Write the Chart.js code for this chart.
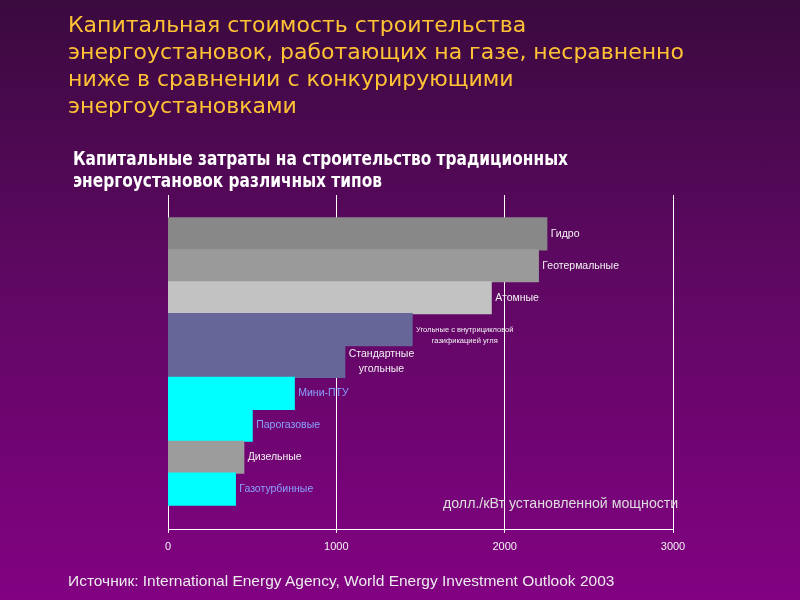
<!DOCTYPE html>
<html>
<head>
<meta charset="utf-8">
<script src="https://cdn.jsdelivr.net/npm/chart.js@4"></script>
<style>
  html, body { margin: 0; padding: 0; }
  body {
    width: 800px; height: 600px; overflow: hidden; position: relative;
    background: linear-gradient(to bottom, #3a0a3e 0%, #5e0862 45%, #820282 100%);
  }
  #chart { position: absolute; left: 0; top: 0; }
  .txt { position: absolute; white-space: nowrap; }
  #title { left: 68px; top: 11px; font: 22px "DejaVu Sans", sans-serif; line-height: 27px; color: #ffc235; }
  #subtitle { left: 73px; top: 147px; font: bold 19px "Liberation Sans Narrow", "DejaVu Sans Condensed", sans-serif; line-height: 22px; color: #ffffff; transform: scaleX(0.9); transform-origin: 0 0; }
  #units { left: 443px; top: 495px; font: 14.2px "Liberation Sans", Arial, sans-serif; color: #dedede; }
  #source { left: 68px; top: 572px; font: 15.5px "Liberation Sans", Arial, sans-serif; color: #ececec; }
</style>
</head>
<body>
<canvas id="chart" width="800" height="600"></canvas>
<div class="txt" id="title">Капитальная стоимость строительства<br>энергоустановок, работающих на газе, несравненно<br>ниже в сравнении с конкурирующими<br>энергоустановками</div>
<div class="txt" id="subtitle">Капитальные затраты на строительство традиционных<br>энергоустановок различных типов</div>
<div class="txt" id="units">долл./кВт установленной мощности</div>
<div class="txt" id="source">Источник: International Energy Agency, World Energy Investment Outlook 2003</div>

<script>
// plant types, top to bottom (each entry = lines of the bar label)
const categories = [
  ['Гидро'],
  ['Геотермальные'],
  ['Атомные'],
  ['Угольные с внутрицикловой', 'газификацией угля'],
  ['Стандартные', 'угольные'],
  ['Мини-ПТУ'],
  ['Парогазовые'],
  ['Дизельные'],
  ['Газотурбинные']
];
// capital cost, USD per kW installed
const costs = [2250, 2200, 1920, 1450, 1050, 750, 500, 450, 400];
const xTicks = [0, 1000, 2000, 3000];

// styling of bars and their labels
const barColors = ['#888888', '#9a9a9a', '#c2c2c2', '#666699', '#666699', '#00ffff', '#00ffff', '#9c9c9c', '#00ffff'];
const labelColors = ['#f2f2f2', '#f2f2f2', '#f2f2f2', '#f2f2f2', '#f2f2f2', '#8aa2ff', '#8aa2ff', '#f2f2f2', '#8aa2ff'];
const labelSizes = [10.5, 10.5, 10.5, 7.5, 10.5, 10.5, 10.5, 10.5, 10.5];
const labelShift = [0, 0, 0, 6, 0, 0, 0, 0, 0];

// draws the text next to each bar end
const barLabels = {
  id: 'barLabels',
  afterDatasetsDraw(chart) {
    const ctx = chart.ctx;
    const meta = chart.getDatasetMeta(0);
    meta.data.forEach((bar, i) => {
      const lines = categories[i];
      const size = labelSizes[i];
      const lh = size * 1.4;
      ctx.save();
      ctx.font = size + 'px "Liberation Sans", Arial, sans-serif';
      ctx.fillStyle = labelColors[i];
      ctx.textAlign = 'center';
      ctx.textBaseline = 'middle';
      const w = Math.max(...lines.map(l => ctx.measureText(l).width));
      const cx = bar.x + 4 + w / 2;
      const cy = bar.y + labelShift[i];
      lines.forEach((l, k) => {
        ctx.fillText(l, cx, cy - (lines.length - 1) * lh / 2 + k * lh);
      });
      ctx.restore();
    });
  }
};

new Chart(document.getElementById('chart'), {
  type: 'bar',
  data: {
    datasets: [{
      data: costs.map((v, i) => ({ x: v, y: i })),
      backgroundColor: barColors,
      borderWidth: 0,
      inflateAmount: 0.6,
      barPercentage: 1,
      categoryPercentage: 1
    }]
  },
  options: {
    indexAxis: 'y',
    responsive: false,
    animation: false,
    layout: { padding: { left: 168, right: 127, top: 195, bottom: 41 } },
    plugins: { legend: { display: false }, tooltip: { enabled: false }, title: { display: false } },
    scales: {
      x: {
        type: 'linear',
        min: 0,
        max: 3000,
        afterBuildTicks: s => { s.ticks = xTicks.map(v => ({ value: v })); },
        afterFit: s => { s.height = 30; s.paddingLeft = 0; s.paddingRight = 0; },
        ticks: { color: '#f2f2f2', font: { size: 11, family: '"Liberation Sans", Arial, sans-serif' }, padding: 7, maxRotation: 0, callback: v => String(v) },
        grid: { color: '#ffffff', lineWidth: 1, tickLength: 4, tickColor: '#ffffff' },
        border: { color: '#ffffff', width: 1 }
      },
      y: {
        type: 'linear',
        display: false,
        reverse: true,
        offset: false,
        min: -1.22,
        max: 9.25,
        ticks: { stepSize: 1, includeBounds: false }
      }
    }
  },
  plugins: [barLabels]
});
</script>
</body>
</html>
